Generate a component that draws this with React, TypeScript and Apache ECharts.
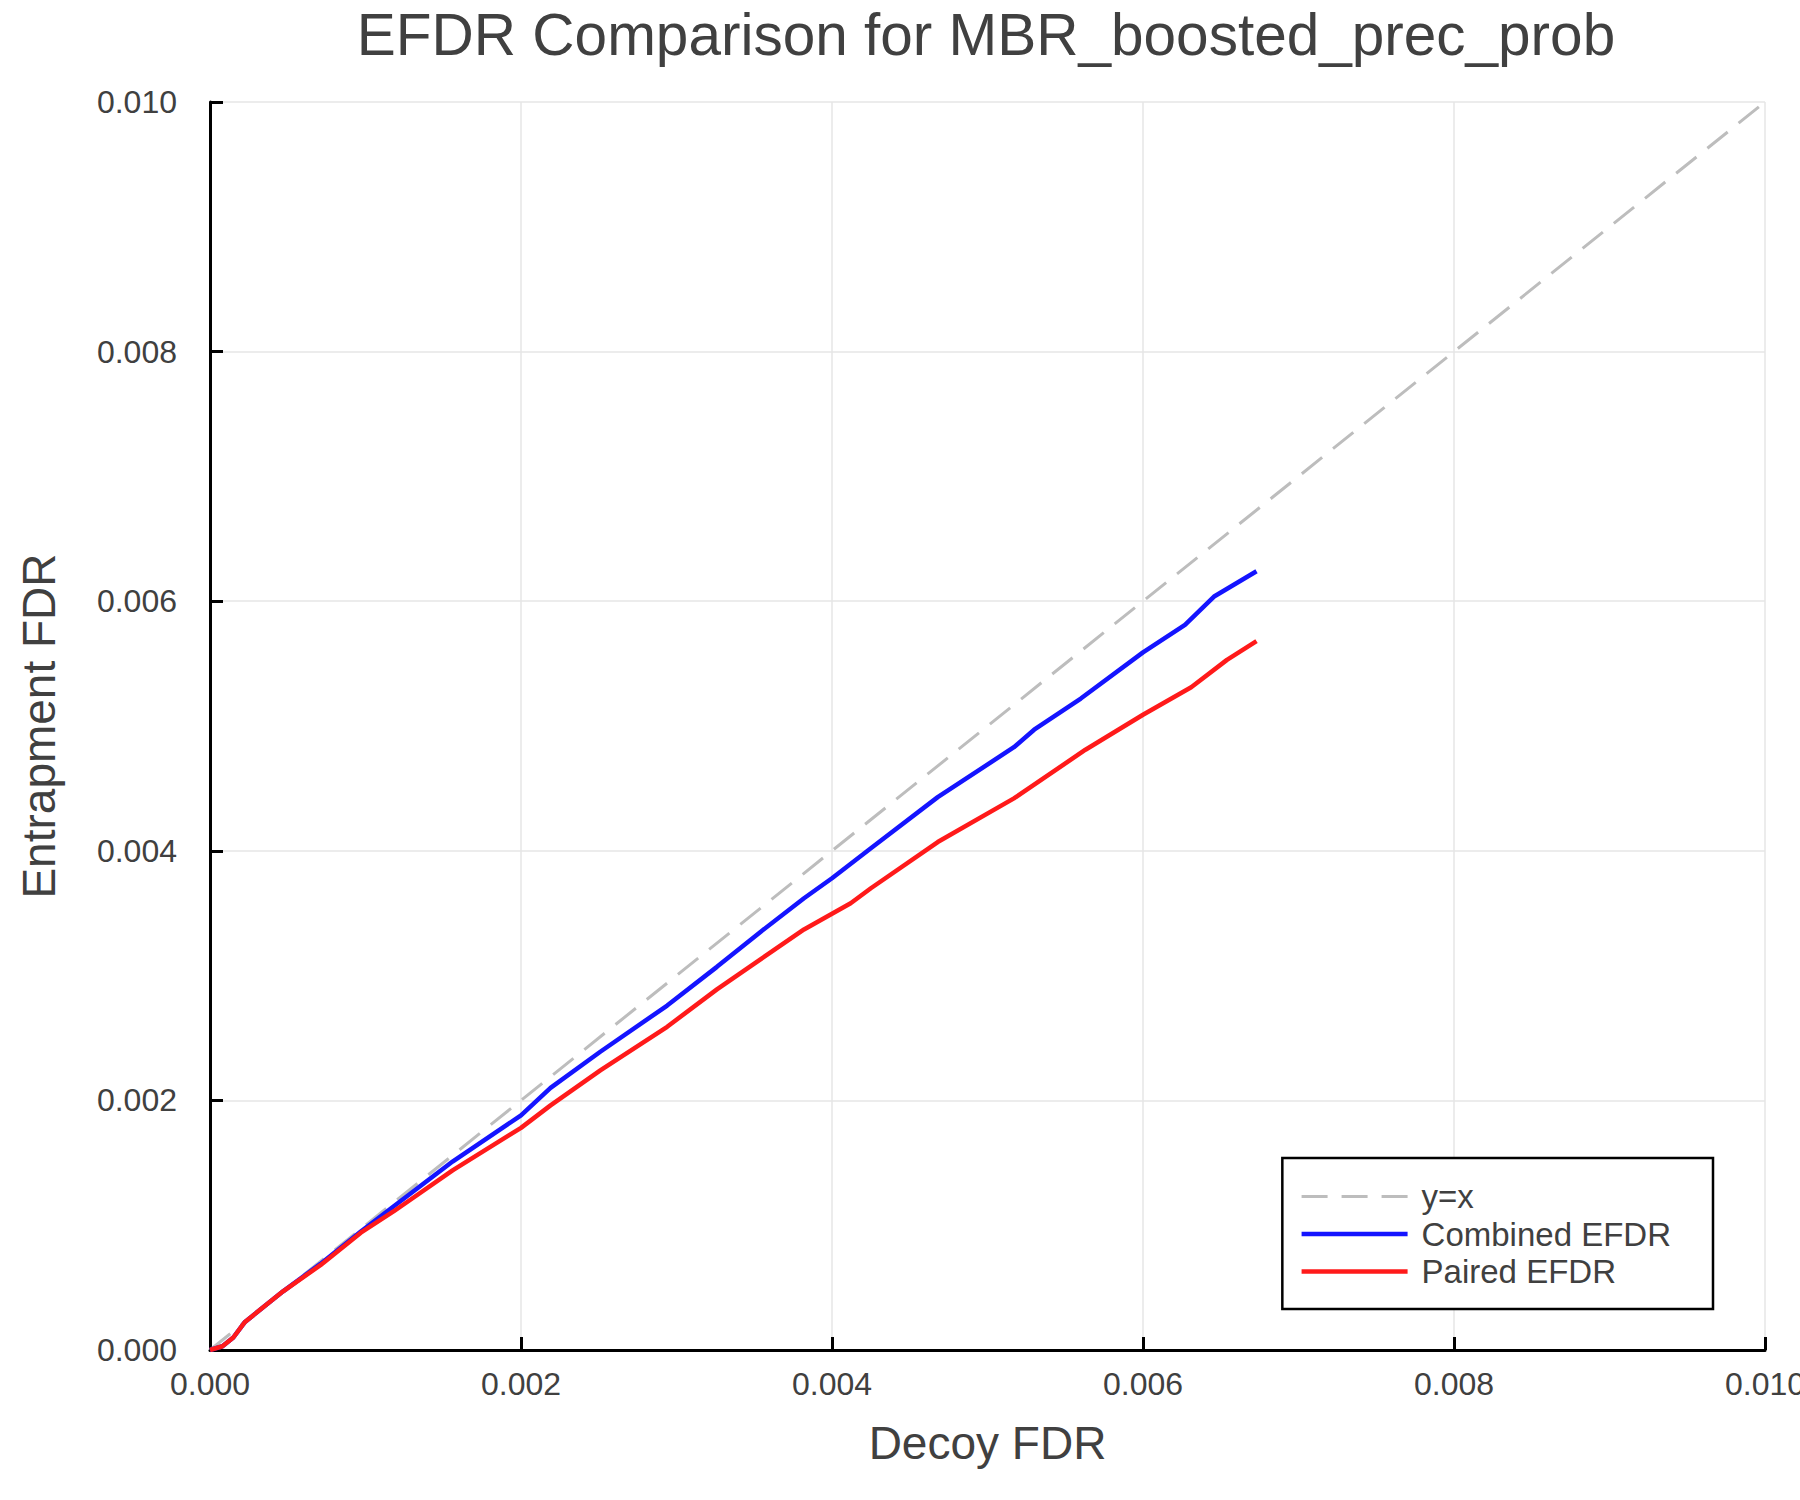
import React, { useEffect, useRef } from 'react';
import * as echarts from 'echarts';

const titleText = 'EFDR Comparison for MBR_boosted_prec_prob';
const seriesNames = ['y=x', 'Combined EFDR', 'Paired EFDR'];

const identityLine: [number, number][] = [
  [0, 0],
  [0.01, 0.01]
];

// decoy FDR, entrapment FDR
const combinedEfdr: [number, number][] = [
  [0, 0], [0.00008, 0.00003], [0.00015, 0.0001], [0.000225, 0.000225],
  [0.00047, 0.00047], [0.00071, 0.00069], [0.00097, 0.00095], [0.00118, 0.00115],
  [0.00156, 0.00151], [0.002, 0.00188], [0.00219, 0.0021], [0.00251, 0.00239],
  [0.00294, 0.00276], [0.00326, 0.00307], [0.00354, 0.00335], [0.00382, 0.00362],
  [0.004, 0.00378], [0.00425, 0.00402], [0.00468, 0.00443], [0.00517, 0.00483],
  [0.0053, 0.00497], [0.0056, 0.00522], [0.006, 0.00559], [0.00627, 0.00581],
  [0.00646, 0.00604], [0.00673, 0.00624]
];

const pairedEfdr: [number, number][] = [
  [0, 0], [0.00008, 0.00003], [0.00015, 0.0001], [0.000225, 0.000225],
  [0.00047, 0.00047], [0.00071, 0.00068], [0.00097, 0.00094], [0.00118, 0.00111],
  [0.00156, 0.00144], [0.002, 0.00178], [0.00219, 0.00196], [0.00251, 0.00224],
  [0.00294, 0.00259], [0.00326, 0.00289], [0.00354, 0.00313], [0.00382, 0.00337],
  [0.00412, 0.00358], [0.00425, 0.0037], [0.00468, 0.00407], [0.00517, 0.00442],
  [0.00563, 0.00481], [0.006, 0.00509], [0.00631, 0.00531], [0.00654, 0.00553],
  [0.00673, 0.00568]
];

const FONT = '"Liberation Sans", Arial, sans-serif';
const TEXT = '#404040';
const GREY = '#bdbdbd';
const BLUE = '#1414ff';
const RED = '#ff1a1a';

const App: React.FC = () => {
  const chartRef = useRef<HTMLDivElement>(null);

  useEffect(() => {
    if (!chartRef.current) return;
    const chart = echarts.init(chartRef.current, undefined, { renderer: 'svg' });

    const axisCommon = {
      type: 'value' as const,
      min: 0,
      max: 0.01,
      interval: 0.002,
      nameLocation: 'middle' as const,
      nameTextStyle: { color: TEXT, fontSize: 46, fontFamily: FONT },
      axisLine: { show: true, lineStyle: { color: '#000', width: 3 } },
      axisTick: { show: true, inside: true, length: 13, lineStyle: { color: '#000', width: 3 } },
      splitLine: { show: true, lineStyle: { color: '#e6e6e6', width: 1.5 } },
      axisLabel: {
        color: TEXT,
        fontSize: 32,
        fontFamily: FONT,
        formatter: (v: number) => v.toFixed(3)
      }
    };

    chart.setOption({
      animation: false,
      backgroundColor: '#fff',
      title: {
        text: titleText,
        left: 981,
        textAlign: 'center',
        top: 0,
        textStyle: { color: TEXT, fontSize: 58.5, fontWeight: 'normal', fontFamily: FONT }
      },
      // the last x label runs past the right edge in the original, so no auto-shrinking
      grid: { left: 210, right: 35, top: 102, bottom: 150, outerBoundsMode: 'none' },
      xAxis: {
        ...axisCommon,
        name: 'Decoy FDR',
        nameGap: 70,
        axisLabel: { ...axisCommon.axisLabel, margin: 18 }
      },
      yAxis: {
        ...axisCommon,
        name: 'Entrapment FDR',
        nameGap: 148,
        axisLabel: { ...axisCommon.axisLabel, margin: 33 }
      },
      legend: {
        orient: 'vertical',
        right: 87,
        top: 1158,
        data: [
          { name: seriesNames[0], lineStyle: { width: 3 } },
          { name: seriesNames[1], lineStyle: { width: 4.5 } },
          { name: seriesNames[2], lineStyle: { width: 4.5 } }
        ],
        itemWidth: 106,
        itemHeight: 20,
        itemGap: 4.5,
        padding: [22, 42, 21, 17],
        borderColor: '#000',
        borderWidth: 2.5,
        borderRadius: 0,
        backgroundColor: '#fff',
        itemStyle: { opacity: 0 },
        textStyle: { color: TEXT, fontSize: 33, fontFamily: FONT, padding: [0, 0, 0, 9] }
      },
      series: [
        {
          name: seriesNames[0],
          type: 'line',
          data: identityLine,
          symbol: 'none',
          lineStyle: { color: GREY, width: 3, type: [26, 14] },
          itemStyle: { color: GREY }
        },
        {
          name: seriesNames[1],
          type: 'line',
          data: combinedEfdr,
          symbol: 'none',
          lineStyle: { color: BLUE, width: 4.5 },
          itemStyle: { color: BLUE }
        },
        {
          name: seriesNames[2],
          type: 'line',
          data: pairedEfdr,
          symbol: 'none',
          lineStyle: { color: RED, width: 4.5 },
          itemStyle: { color: RED }
        }
      ]
    });

    return () => chart.dispose();
  }, []);

  return (
    <div
      ref={chartRef}
      style={{ position: 'absolute', left: 0, top: 0, width: 1800, height: 1500 }}
    />
  );
};

export default App;
